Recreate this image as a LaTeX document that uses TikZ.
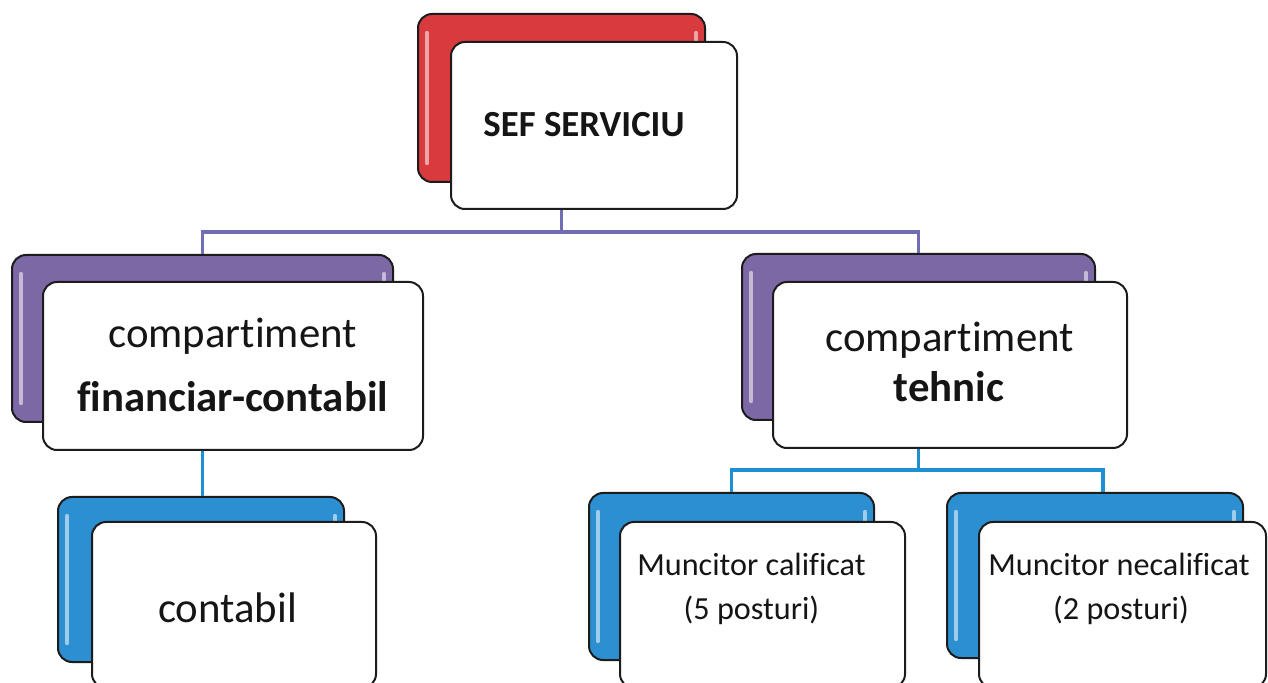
\documentclass[tikz,border=0pt]{standalone}
\usepackage{fontspec}
\setmainfont{Carlito}[Ligatures=NoCommon]
\definecolor{redb}{HTML}{D83A3E}
\definecolor{purb}{HTML}{7D68A6}
\definecolor{blueb}{HTML}{2B8FD1}
\definecolor{connp}{HTML}{6F6DB3}
\definecolor{connb}{HTML}{1F8FD3}
\definecolor{edgec}{HTML}{1C1C1C}
\definecolor{txt}{HTML}{151515}
\tikzset{
  backbox/.style={rectangle, draw=edgec, line width=1pt, rounded corners=7pt, inner sep=0pt},
  frontbox/.style={rectangle, draw=edgec, line width=1pt, rounded corners=7pt, fill=white, inner sep=0pt},
  gloss/.style={white, line width=2.2pt, line cap=round, opacity=0.55},
  conP/.style={connp, line width=1.6pt},
  conB/.style={connb, line width=1.6pt},
  lbl/.style={anchor=base, inner sep=0pt, text=txt},
  bigt/.style={lbl, font=\fontsize{21.4pt}{26pt}\selectfont},
  bigb/.style={lbl, font=\fontsize{21.4pt}{26pt}\selectfont\bfseries},
  topt/.style={lbl, font=\fontsize{18.4pt}{22pt}\selectfont\bfseries},
  medt/.style={lbl, font=\fontsize{16.1pt}{20pt}\selectfont},
}
\begin{document}
\begin{tikzpicture}[x=0.5pt, y=-0.5pt]
\useasboundingbox (0,0) rectangle (1268,683);
\fill[white] (0,0) rectangle (1268,683);

% back boxes
\node[backbox, fill=redb,  minimum width=143.5pt, minimum height=84pt]   (sefb) at (561.5,98) {};
\node[backbox, fill=purb,  minimum width=190.5pt, minimum height=83.5pt] (finb) at (202.5,338.5) {};
\node[backbox, fill=purb,  minimum width=176.5pt, minimum height=83pt]   (tehb) at (918.5,337) {};
\node[backbox, fill=blueb, minimum width=143pt,   minimum height=82.5pt] (conb) at (201,579.5) {};
\node[backbox, fill=blueb, minimum width=142.5pt, minimum height=83.5pt] (calb) at (731.5,576.5) {};
\node[backbox, fill=blueb, minimum width=148pt,   minimum height=82.5pt] (necb) at (1095,575.5) {};

% gloss highlights
\foreach \b in {sefb,finb,tehb,conb,calb,necb}{
  \draw[gloss] ([shift={(5pt,-10pt)}]\b.north west) -- ([shift={(5pt,10pt)}]\b.south west);
  \draw[gloss] ([shift={(-5pt,-10pt)}]\b.north east) -- ([shift={(-5pt,-20pt)}]\b.north east);
}

% front boxes
\node[frontbox, minimum width=143pt,   minimum height=83.5pt] (seff) at (594,125.5) {};
\node[frontbox, minimum width=190pt,   minimum height=84pt]   (finf) at (233,366) {};
\node[frontbox, minimum width=177pt,   minimum height=83pt]   (tehf) at (950,365) {};
\node[frontbox, minimum width=142pt,   minimum height=83pt]   (conf) at (234,605) {};
\node[frontbox, minimum width=142.5pt, minimum height=83pt]   (calf) at (762.5,605) {};
\node[frontbox, minimum width=143.5pt, minimum height=83pt]   (necf) at (1122.5,605) {};

% connectors
\coordinate (bus1) at (561.5,232);
\draw[conP] (sefb.center |- seff.south) -- (bus1) -| (finb.north);
\draw[conP] (bus1) -| (tehb.north);
\draw[conB] (finb.center |- finf.south) -- (finb.center |- conb.north);
\coordinate (bus2) at (918.5,470);
\draw[conB] (tehb.center |- tehf.south) -- (bus2) -| (calb.north);
\draw[conB] (bus2) -| ([xshift=4pt]necb.north);

% labels
\node[topt] (l1) at (584,137) {SEF SERVICIU};
\node[bigt] (l2) at (232.5,348) {compartiment};
\node[bigb] (l3) at (232.5,412) {financiar-contabil};
\node[bigt] (l4) at (949.5,352) {compartiment};
\node[bigb] (l5) at (949,402) {tehnic};
\node[bigt] (l6) at (227.5,622) {contabil};
\node[medt] (l7) at (751.5,575) {Muncitor calificat};
\node[medt] (l8) at (751.5,619) {(5 posturi)};
\node[medt] (l9) at (1119,575) {Muncitor necalificat};
\node[medt] (l10) at (1121,619) {(2 posturi)};
\end{tikzpicture}
\end{document}
